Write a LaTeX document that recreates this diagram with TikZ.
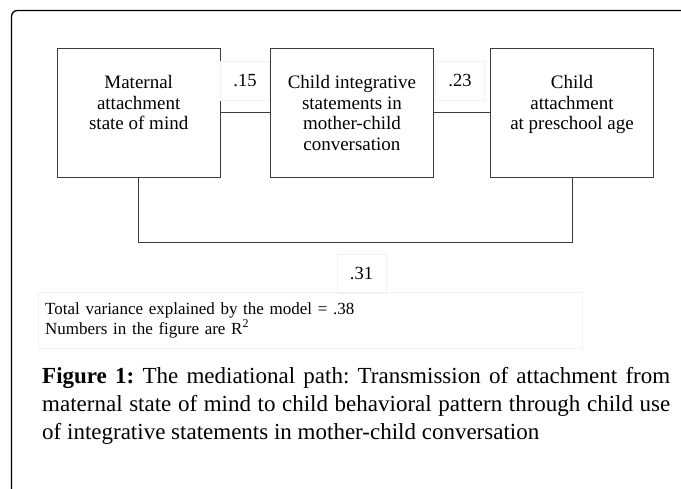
\documentclass[tikz,border=0pt]{standalone}
\usepackage{fontspec}
\setmainfont{Liberation Serif}
\usetikzlibrary{positioning}
\definecolor{linecolor}{RGB}{60,60,60}
\definecolor{faintcolor}{RGB}{242,242,242}
\frenchspacing

\begin{document}
\begin{tikzpicture}[x=1pt, y=-1pt,
    construct/.style={rectangle, draw=linecolor, line width=0.9pt,
                   minimum width=163pt, minimum height=129pt, inner sep=0pt},
    boxtext/.style={align=center, inner sep=0pt, font=\fontsize{19}{20.5}\selectfont},
    coef/.style={rectangle, draw=faintcolor, minimum width=49pt, minimum height=39pt,
                 font=\fontsize{18.5}{20}\selectfont},
    link/.style={draw=linecolor, line width=0.9pt}
]
\useasboundingbox (0,0) rectangle (681,488);

% Frame
\draw[line width=1.3pt, rounded corners=6pt] (11.5,492) |- (685,10.5);

% Constructs
\node[construct] (mom) at (138.7,112.5) {};
\node[construct] (talk) at (351.9,112.5) {};
\node[construct] (kid) at (572,112.5) {};

\node[boxtext, below=28pt of mom.north] (momtext) {Maternal\\attachment\\state of mind};
\node[boxtext, below=28pt of talk.north] (talktext) {Child integrative\\statements in\\mother-child\\conversation};
\node[boxtext, below=28pt of kid.north] (kidtext) {Child\\attachment\\at preschool age};

% Paths
\draw[link] (mom) -- (talk);
\draw[link] (talk) -- (kid);
\draw[link] (mom.south) -- ++(0,65) -| (kid.south);

% Coefficients
\node[coef] (c15) at (245,81) {.15};
\node[coef] (c23) at (460,81) {.23};
\node[coef] (c31) at (361.5,273.5) {.31};

% Note and caption
\node[anchor=north west, draw=faintcolor, text width=530pt, inner xsep=7pt, inner ysep=8pt,
      minimum height=56pt, align=left, font=\fontsize{17}{19.5}\selectfont] (note) at (38,292)
      {Total variance explained by the model = .38\\Numbers in the figure are R\textsuperscript{2}};
\node[anchor=north west, text width=628pt, align=justify, inner sep=0pt,
      font=\fontsize{23}{28}\selectfont] (caption) at (42,367)
      {\textbf{Figure 1:} The mediational path: Transmission of attachment from\linebreak
       maternal state of mind to child behavioral pattern through child use\linebreak
       of integrative statements in mother-child conversation};

\end{tikzpicture}
\end{document}
